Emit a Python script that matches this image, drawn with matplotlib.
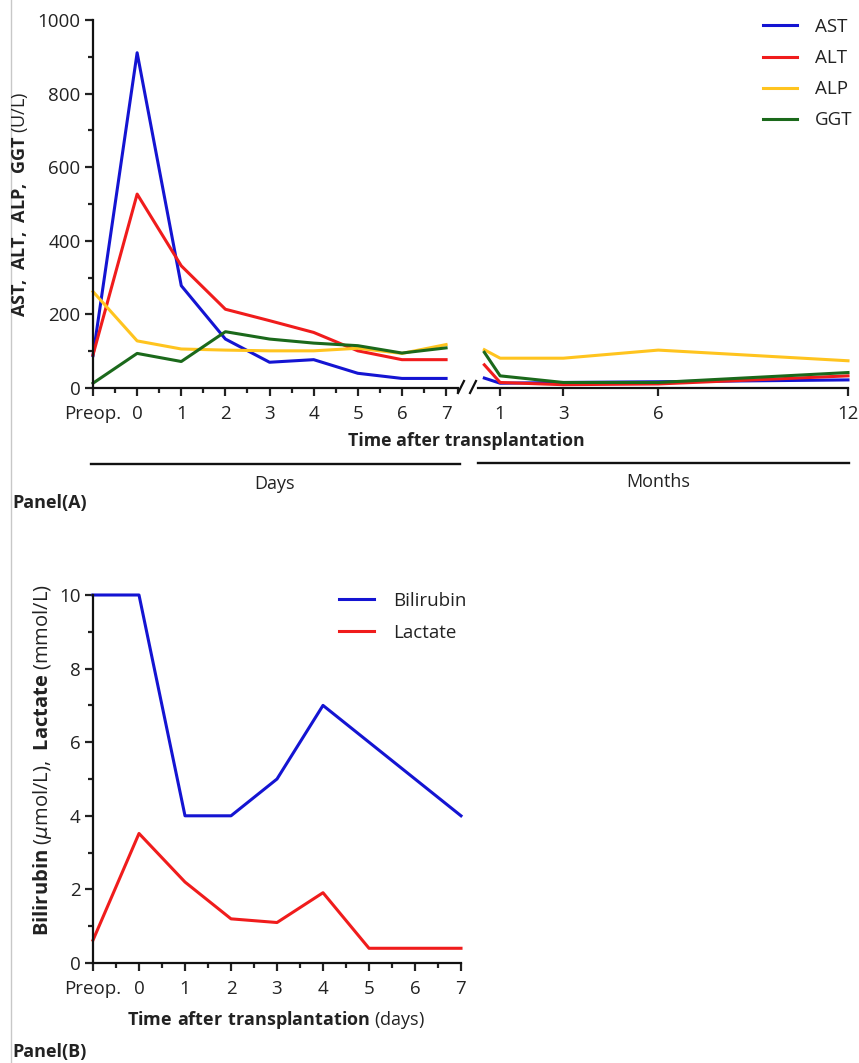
import matplotlib
matplotlib.use('Agg')
import matplotlib.pyplot as plt
from matplotlib.lines import Line2D

plt.rcParams['font.family'] = ['Open Sans', 'DejaVu Sans']
plt.rcParams['mathtext.fontset'] = 'custom'
plt.rcParams['mathtext.rm'] = 'Open Sans'
plt.rcParams['mathtext.bf'] = 'Open Sans:bold'
plt.rcParams['text.color'] = '#222222'
plt.rcParams['xtick.color'] = '#222222'
plt.rcParams['ytick.color'] = '#222222'

# ---- data ----
day_pos = [-1, 0, 1, 2, 3, 4, 5, 6, 7]
day_labels = ['Preop.', '0', '1', '2', '3', '4', '5', '6', '7']
month_pos = [0.5, 1, 3, 6, 12]
month_ticks = [1, 3, 6, 12]

ast_days = [88, 911, 278, 133, 70, 77, 40, 26, 26]
alt_days = [90, 527, 332, 214, 183, 151, 101, 77, 77]
alp_days = [262, 128, 106, 103, 101, 101, 108, 94, 118]
ggt_days = [13, 94, 72, 153, 133, 122, 115, 95, 109]

ast_months = [27, 13, 15, 17, 22]
alt_months = [63, 15, 9, 11, 33]
alp_months = [104, 81, 81, 103, 74]
ggt_months = [97, 33, 15, 15, 42]

bilirubin = [10, 10, 4, 4, 5, 7, 6, 5, 4]
lactate = [0.62, 3.52, 2.2, 1.2, 1.1, 1.91, 0.4, 0.4, 0.4]

c_blue = '#1414d2'
c_red = '#f01c1c'
c_yellow = '#ffc41f'
c_green = '#1b691b'

W, H = 859, 1063
LW = 2.2
TICK_FS = 13.5


def box(l, t, r, b):
    return [l / W, 1 - b / H, (r - l) / W, (b - t) / H]


def fx(x):
    return x / W


def fy(y):
    return 1 - y / H


def style_axes(ax):
    ax.patch.set_alpha(0)
    for s in ['top', 'right']:
        ax.spines[s].set_visible(False)
    for s in ['left', 'bottom']:
        ax.spines[s].set_linewidth(1.6)
        ax.spines[s].set_color('#111111')
    ax.tick_params(which='major', length=6, width=1.6, labelsize=TICK_FS, pad=3)
    ax.tick_params(which='minor', length=3.5, width=1.6)
    ax.tick_params(axis='x', which='major', pad=6)


fig = plt.figure(figsize=(W / 100, H / 100), dpi=100)

# ---- Panel A: days ----
ax1 = fig.add_axes(box(93, 20, 458, 388))
h_ast, = ax1.plot(day_pos, ast_days, color=c_blue, lw=LW, label='AST', clip_on=False)
h_alt, = ax1.plot(day_pos, alt_days, color=c_red, lw=LW, label='ALT', clip_on=False)
h_alp, = ax1.plot(day_pos, alp_days, color=c_yellow, lw=LW, label='ALP', clip_on=False)
h_ggt, = ax1.plot(day_pos, ggt_days, color=c_green, lw=LW, label='GGT', clip_on=False)
ax1.set_xlim(-1, 7.27)
ax1.set_ylim(0, 1000)
ax1.set_xticks(day_pos)
ax1.set_xticklabels(day_labels)
ax1.set_xticks([p + 0.5 for p in day_pos[:-1]] + [7.27], minor=True)
ax1.set_yticks([0, 200, 400, 600, 800, 1000])
ax1.set_yticks([100, 300, 500, 700, 900], minor=True)
style_axes(ax1)

# ---- Panel A: months ----
ax2 = fig.add_axes(box(478, 20, 848, 388))
ax2.plot(month_pos, ast_months, color=c_blue, lw=LW, clip_on=False)
ax2.plot(month_pos, alt_months, color=c_red, lw=LW, clip_on=False)
ax2.plot(month_pos, alp_months, color=c_yellow, lw=LW, clip_on=False)
ax2.plot(month_pos, ggt_months, color=c_green, lw=LW, clip_on=False)
ax2.set_xlim(0.3, 12)
ax2.set_ylim(0, 1000)
ax2.set_xticks(month_ticks)
ax2.set_yticks([])
style_axes(ax2)
ax2.spines['left'].set_visible(False)

# axis break marks
for x0 in [458, 470]:
    fig.add_artist(Line2D([fx(x0), fx(x0 + 6)], [fy(393), fy(381)],
                          color='#111111', lw=1.6))

fig.legend(handles=[h_ast, h_alt, h_alp, h_ggt],
           loc='upper left', bbox_to_anchor=(fx(763), fy(18)),
           bbox_transform=fig.transFigure, frameon=False, fontsize=13.5,
           handlelength=1.8, handletextpad=0.95, labelspacing=0.70,
           borderpad=0, borderaxespad=0)

fig.text(fx(20), fy(204), r'$\mathbf{AST,\ ALT,\ ALP,\ GGT}$ (U/L)',
         rotation=90, ha='center', va='center', fontsize=13)
fig.text(fx(466), fy(441), 'Time after transplantation',
         ha='center', va='center', fontsize=12.8, fontweight='bold')

# days / months brackets
fig.add_artist(Line2D([fx(91), fx(460)], [fy(464), fy(464)], color='#111111', lw=1.7))
fig.add_artist(Line2D([fx(478), fx(849)], [fy(463), fy(463)], color='#111111', lw=1.7))
fig.text(fx(275), fy(484), 'Days', ha='center', va='center', fontsize=13)
fig.text(fx(658), fy(482), 'Months', ha='center', va='center', fontsize=13)
fig.text(fx(12), fy(503), 'Panel(A)', ha='left', va='center', fontsize=13,
         fontweight='bold')

# ---- Panel B ----
ax3 = fig.add_axes(box(93, 595, 461, 963))
ax3.plot(day_pos, bilirubin, color=c_blue, lw=LW, label='Bilirubin', clip_on=False)
ax3.plot(day_pos, lactate, color=c_red, lw=LW, label='Lactate', clip_on=False)
ax3.set_xlim(-1, 7)
ax3.set_ylim(0, 10)
ax3.set_xticks(day_pos)
ax3.set_xticklabels(day_labels)
ax3.set_xticks([p + 0.5 for p in day_pos[:-1]], minor=True)
ax3.set_yticks([0, 2, 4, 6, 8, 10])
ax3.set_yticks([1, 3, 5, 7, 9], minor=True)
style_axes(ax3)
ax3.legend(loc='upper left', bbox_to_anchor=(fx(339), fy(592)),
           bbox_transform=fig.transFigure, frameon=False, fontsize=13.5,
           handlelength=1.85, handletextpad=1.05, labelspacing=0.72,
           borderpad=0, borderaxespad=0)

fig.text(fx(43), fy(760),
         r'$\mathbf{Bilirubin}$ ($\mu$mol/L),  $\mathbf{Lactate}$ (mmol/L)',
         rotation=90, ha='center', va='center', fontsize=14.5)
fig.text(fx(276), fy(1020),
         r'$\mathbf{Time\ after\ transplantation}$ (days)',
         ha='center', va='center', fontsize=13)
fig.text(fx(12), fy(1052), 'Panel(B)', ha='left', va='center', fontsize=13,
         fontweight='bold')

# left border line of the source screenshot
fig.add_artist(Line2D([fx(11), fx(11)], [0, 1], color='#c8c8c8', lw=1))

fig.savefig('out.png', dpi=100)
